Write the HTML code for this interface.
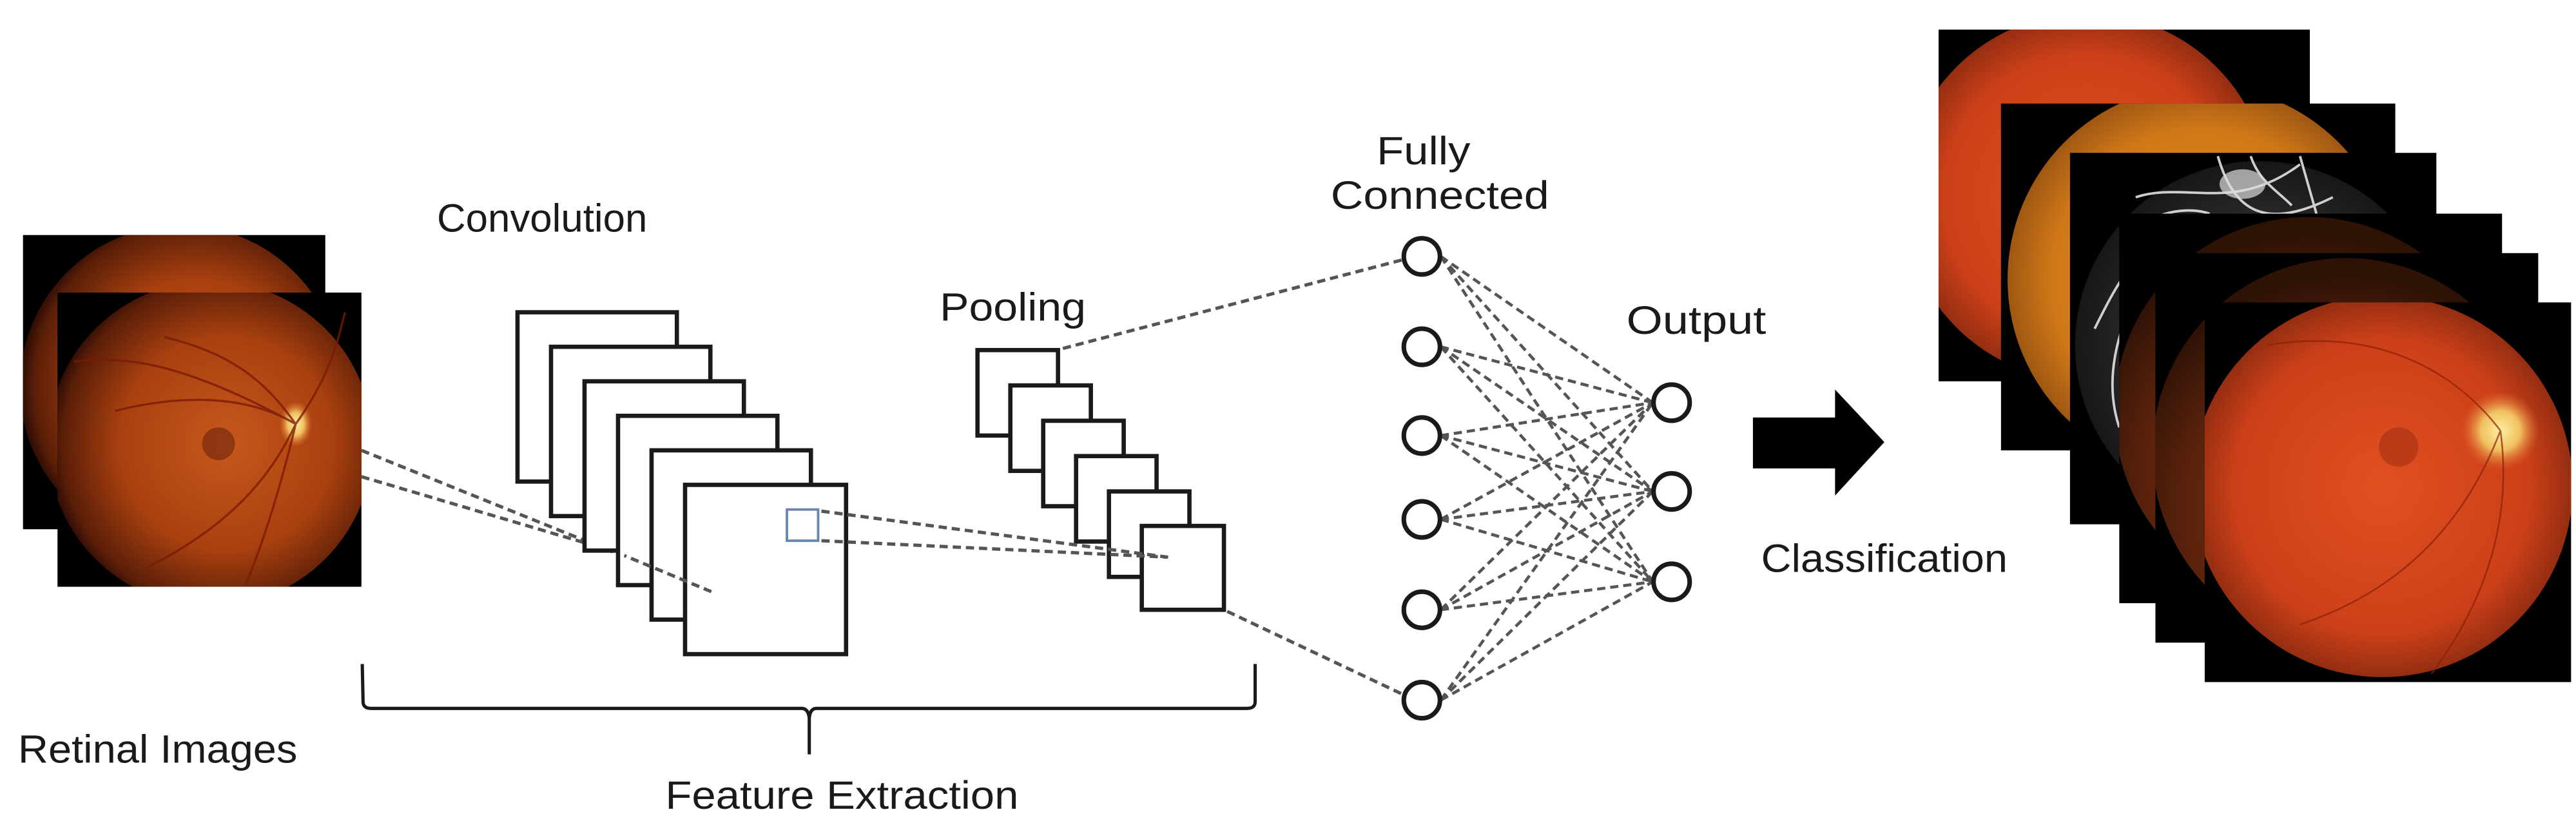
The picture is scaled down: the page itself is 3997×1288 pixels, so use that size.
<!DOCTYPE html>
<html><head><meta charset="utf-8"><style>
html,body{margin:0;padding:0;background:#fff;}
svg{display:block;}
text{font-family:"Liberation Sans",sans-serif;fill:#1a1a1a;}
</style></head><body>
<svg width="3997" height="1288" viewBox="0 0 1568 505" preserveAspectRatio="none" xmlns="http://www.w3.org/2000/svg">
<defs>
<radialGradient id="fA" cx="0.55" cy="0.5" r="0.55">
<stop offset="0" stop-color="#c8581c"/><stop offset="0.6" stop-color="#a8400f"/><stop offset="0.92" stop-color="#5a1e08"/><stop offset="1" stop-color="#2a0c04"/></radialGradient>
<radialGradient id="fB" cx="0.5" cy="0.5" r="0.55">
<stop offset="0" stop-color="#e0501f"/><stop offset="0.7" stop-color="#cc4019"/><stop offset="0.95" stop-color="#8a2a10"/><stop offset="1" stop-color="#4a1408"/></radialGradient>
<radialGradient id="fC" cx="0.5" cy="0.5" r="0.55">
<stop offset="0" stop-color="#e0901c"/><stop offset="0.7" stop-color="#d07818"/><stop offset="1" stop-color="#8a4a10"/></radialGradient>
<radialGradient id="fD" cx="0.5" cy="0.5" r="0.55">
<stop offset="0" stop-color="#666"/><stop offset="0.6" stop-color="#2a2a2a"/><stop offset="1" stop-color="#111"/></radialGradient>
<radialGradient id="fE" cx="0.5" cy="0.65" r="0.6">
<stop offset="0" stop-color="#8a3414"/><stop offset="0.7" stop-color="#5a220c"/><stop offset="1" stop-color="#2e1206"/></radialGradient>
<radialGradient id="disc" cx="0.5" cy="0.5" r="0.5">
<stop offset="0" stop-color="#fff0a0"/><stop offset="0.5" stop-color="#f0c060"/><stop offset="1" stop-color="#e07030" stop-opacity="0"/></radialGradient>
<clipPath id="c1"><rect x="14" y="143" width="184" height="179"/></clipPath>
<clipPath id="c2"><rect x="35" y="178" width="185" height="179"/></clipPath>
<clipPath id="r1"><rect x="1180" y="18" width="226" height="214"/></clipPath>
<clipPath id="r2"><rect x="1218" y="63" width="240" height="211"/></clipPath>
<clipPath id="r3"><rect x="1260" y="93" width="223" height="226"/></clipPath>
<clipPath id="r4"><rect x="1290" y="130" width="233" height="237"/></clipPath>
<clipPath id="r5"><rect x="1312" y="154" width="233" height="237"/></clipPath>
<clipPath id="r6"><rect x="1342" y="184" width="223" height="231"/></clipPath>
</defs>

<rect x="14" y="143" width="184" height="179" fill="#000"/>
<g clip-path="url(#c1)"><circle cx="110" cy="235" r="98" fill="url(#fA)"/></g>
<rect x="35" y="178" width="185" height="179" fill="#000"/>
<g clip-path="url(#c2)">
<circle cx="128" cy="270" r="99" fill="url(#fA)"/>
<ellipse cx="180" cy="258" rx="10" ry="14" fill="url(#disc)"/>
<g fill="none" stroke="#7a1a08" stroke-width="1.3" opacity="0.8">
<path d="M180 258 C160 230,140 215,100 205 M180 258 C150 240,110 240,70 250 M180 258 C165 290,140 320,90 345 M180 258 C170 300,160 330,150 355 M180 258 C200 230,205 210,210 190 M180 258 C120 225,80 215,45 220"/>
</g>
<circle cx="133" cy="270" r="10" fill="#5a1a08" opacity="0.5"/>
</g>

<g stroke="#555" stroke-width="2" stroke-dasharray="5 3" fill="none">
<line x1="220" y1="274" x2="433" y2="360"/>
<line x1="220" y1="290" x2="372" y2="335"/>
</g>

<g fill="#fff" stroke="#1a1a1a" stroke-width="2.6">
<rect x="315" y="190" width="97" height="103"/>
<rect x="335.4" y="211" width="97" height="103"/>
<rect x="355.8" y="232" width="97" height="103"/>
<rect x="376.2" y="253" width="97" height="103"/>
<rect x="396.6" y="274" width="97" height="103"/>
<rect x="417" y="295" width="98" height="103"/>
</g>
<rect x="479" y="310" width="19" height="19" fill="none" stroke="#6a86b0" stroke-width="1.5"/>

<g fill="#fff" stroke="#1a1a1a" stroke-width="2.6">
<rect x="595" y="213" width="49" height="52"/>
<rect x="615" y="234.5" width="49" height="52"/>
<rect x="635" y="256" width="49" height="52"/>
<rect x="655" y="277.5" width="49" height="52"/>
<rect x="675" y="299" width="49" height="52"/>
<rect x="695" y="320" width="50" height="51"/>
</g>

<g stroke="#555" stroke-width="2" stroke-dasharray="5 3" fill="none">
<line x1="433" y1="360" x2="380" y2="338"/>
<line x1="500" y1="311" x2="711" y2="339"/>
<line x1="500" y1="329" x2="711" y2="339"/>
<line x1="647" y1="212" x2="854" y2="158"/>
<line x1="747" y1="372" x2="855" y2="423"/>
</g>

<g stroke="#555" stroke-width="1.8" stroke-dasharray="5 3" fill="none">
<line x1="877" y1="156" x2="1006" y2="245"/><line x1="877" y1="156" x2="1006" y2="299"/><line x1="877" y1="156" x2="1006" y2="354"/>
<line x1="877" y1="211" x2="1006" y2="245"/><line x1="877" y1="211" x2="1006" y2="299"/><line x1="877" y1="211" x2="1006" y2="354"/>
<line x1="877" y1="265" x2="1006" y2="245"/><line x1="877" y1="265" x2="1006" y2="299"/><line x1="877" y1="265" x2="1006" y2="354"/>
<line x1="877" y1="316" x2="1006" y2="245"/><line x1="877" y1="316" x2="1006" y2="299"/><line x1="877" y1="316" x2="1006" y2="354"/>
<line x1="877" y1="371" x2="1006" y2="245"/><line x1="877" y1="371" x2="1006" y2="299"/><line x1="877" y1="371" x2="1006" y2="354"/>
<line x1="877" y1="426" x2="1006" y2="245"/><line x1="877" y1="426" x2="1006" y2="299"/><line x1="877" y1="426" x2="1006" y2="354"/>
</g>
<g fill="#fff" stroke="#1a1a1a" stroke-width="2.8">
<circle cx="865.5" cy="156" r="11"/><circle cx="865.5" cy="211" r="11"/><circle cx="865.5" cy="265" r="11"/>
<circle cx="865.5" cy="316" r="11"/><circle cx="865.5" cy="371" r="11"/><circle cx="865.5" cy="426" r="11"/>
<circle cx="1017.5" cy="245" r="11"/><circle cx="1017.5" cy="299" r="11"/><circle cx="1017.5" cy="354" r="11"/>
</g>

<polygon points="1067,254 1117,254 1117,237 1147,269 1117,301.5 1117,285 1067,285" fill="#000"/>

<path d="M220.5 404 L221 427 Q221 431 226 431 L488 431 Q492 431 492.6 437 L492.6 459 M492.6 437 Q493 431 497 431 L759 431 Q764 431 764 427 L764 404" fill="none" stroke="#1a1a1a" stroke-width="2"/>

<rect x="1180" y="18" width="226" height="214" fill="#000"/>
<g clip-path="url(#r1)"><circle cx="1270" cy="120" r="112" fill="url(#fB)"/></g>
<rect x="1218" y="63" width="240" height="211" fill="#000"/>
<g clip-path="url(#r2)"><circle cx="1340" cy="170" r="118" fill="url(#fC)"/></g>
<rect x="1260" y="93" width="223" height="226" fill="#000"/>
<g clip-path="url(#r3)"><circle cx="1375" cy="210" r="112" fill="url(#fD)"/>
<g stroke="#eee" stroke-width="1.5" fill="none" opacity="0.85"><path d="M1300 120 C1330 110,1360 130,1400 100 M1350 95 C1360 130,1380 140,1420 120 M1275 200 C1290 170,1300 150,1330 140 M1290 260 C1280 230,1290 200,1300 180 M1370 95 C1375 110,1385 115,1395 125 M1400 95 L1410 130 M1300 140 C1310 130,1330 125,1345 130"/></g>
<ellipse cx="1365" cy="112" rx="14" ry="9" fill="#ddd" opacity="0.7"/></g>
<rect x="1290" y="130" width="233" height="237" fill="#000"/>
<g clip-path="url(#r4)"><circle cx="1405" cy="250" r="118" fill="url(#fE)"/></g>
<rect x="1312" y="154" width="233" height="237" fill="#000"/>
<g clip-path="url(#r5)"><circle cx="1428" cy="275" r="118" fill="url(#fE)"/></g>
<rect x="1342" y="184" width="223" height="231" fill="#000"/>
<g clip-path="url(#r6)">
<circle cx="1450" cy="296" r="116" fill="url(#fB)"/>
<ellipse cx="1522" cy="262" rx="24" ry="24" fill="url(#disc)"/>
<circle cx="1460" cy="272" r="12" fill="#9a2a10" opacity="0.5"/>
<g fill="none" stroke="#8a2008" stroke-width="1" opacity="0.7">
<path d="M1522 262 C1490 220,1440 200,1380 210 M1522 262 C1500 320,1460 360,1400 380 M1522 262 C1530 320,1510 370,1480 410"/></g>
</g>

<text x="266" y="141" font-size="24" textLength="128" lengthAdjust="spacingAndGlyphs">Convolution</text>
<text x="572" y="195" font-size="24" textLength="89" lengthAdjust="spacingAndGlyphs">Pooling</text>
<text x="838" y="100" font-size="24" textLength="57" lengthAdjust="spacingAndGlyphs">Fully</text>
<text x="810" y="127" font-size="24" textLength="133" lengthAdjust="spacingAndGlyphs">Connected</text>
<text x="990" y="203" font-size="24" textLength="85" lengthAdjust="spacingAndGlyphs">Output</text>
<text x="1072" y="348" font-size="24" textLength="150" lengthAdjust="spacingAndGlyphs">Classification</text>
<text x="11" y="464" font-size="24" textLength="170" lengthAdjust="spacingAndGlyphs">Retinal Images</text>
<text x="405" y="492" font-size="24" textLength="215" lengthAdjust="spacingAndGlyphs">Feature Extraction</text>
</svg>
</body></html>
